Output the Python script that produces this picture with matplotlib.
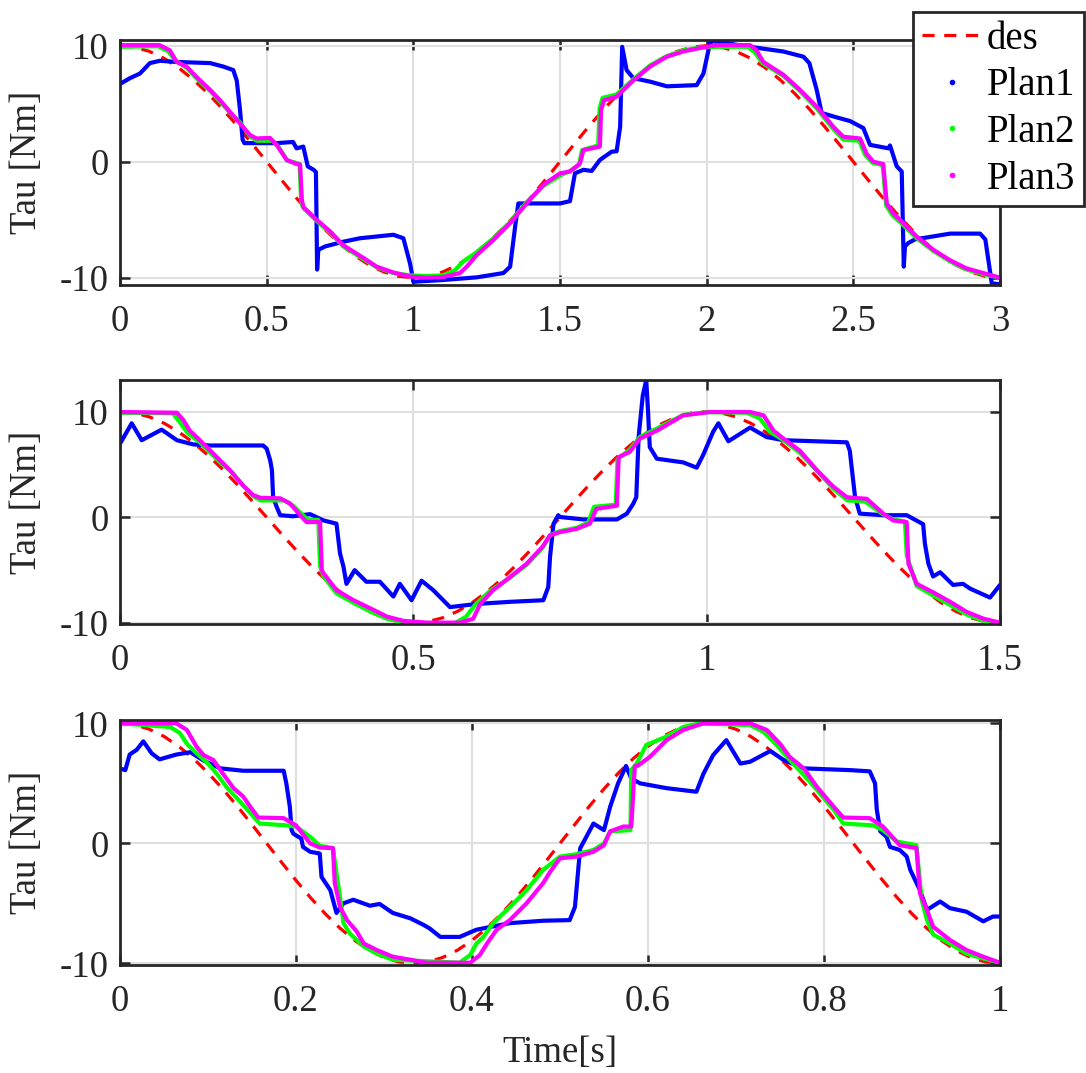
import numpy as np
import matplotlib
matplotlib.use("Agg")
import matplotlib.pyplot as plt
from matplotlib.lines import Line2D

# ---------------- data ----------------
# desired torque over 1.5 periods (same sequence in every panel, time-scaled)
des_vals = [10.0, 9.88, 9.51, 8.91, 8.09, 7.07, 5.88, 4.54, 3.09, 1.56,
            0.0, -1.56, -3.09, -4.54, -5.88, -7.07, -8.09, -8.91, -9.51, -9.88,
            -10.0, -9.88, -9.51, -8.91, -8.09, -7.07, -5.88, -4.54, -3.09, -1.56,
            0.0, 1.56, 3.09, 4.54, 5.88, 7.07, 8.09, 8.91, 9.51, 9.88,
            10.0, 9.88, 9.51, 8.91, 8.09, 7.07, 5.88, 4.54, 3.09, 1.56,
            0.0, -1.56, -3.09, -4.54, -5.88, -7.07, -8.09, -8.91, -9.51, -9.88,
            -10.0]
t_end = [3.0, 1.5, 1.0]

# panel 1 (3 s)
p1_t1 = [0, 0.034, 0.068, 0.102, 0.136, 0.19, 0.307, 0.352, 0.386, 0.398, 0.409, 0.418, 0.424,
         0.534, 0.59, 0.602, 0.625, 0.64, 0.66, 0.668, 0.672, 0.676, 0.7, 0.761, 0.818, 0.932,
         0.966, 0.989, 1.0, 1.1, 1.216, 1.307, 1.33, 1.347, 1.358, 1.5, 1.534, 1.551, 1.58,
         1.608, 1.636, 1.676, 1.693, 1.705, 1.712, 1.727, 1.75, 1.807, 1.864, 1.966, 1.989,
         2.011, 2.02, 2.148, 2.261, 2.33, 2.35, 2.375, 2.392, 2.432, 2.489, 2.534, 2.557,
         2.62, 2.625, 2.648, 2.665, 2.672, 2.676, 2.688, 2.71, 2.83, 2.932, 2.95, 2.972, 3.0]
p1_v1 = [6.7, 7.2, 7.6, 8.5, 8.7, 8.6, 8.5, 8.2, 7.9, 7.0, 4.5, 1.9, 1.6, 1.6, 1.7, 1.15, 1.3,
         -0.4, -0.7, -0.9, -9.3, -7.6, -7.3, -6.9, -6.6, -6.3, -6.6, -8.8, -10.35, -10.2,
         -9.97, -9.6, -9.05, -5.6, -3.6, -3.6, -3.4, -1.0, -0.7, -0.8, 0.15, 0.86, 0.9, 3.0,
         9.9, 7.9, 7.2, 6.9, 6.5, 6.6, 7.6, 10.2, 10.4, 9.9, 9.5, 9.05, 8.5, 6.2, 4.2, 3.9,
         3.5, 2.9, 1.45, 1.15, 1.4, -0.4, -0.85, -9.05, -7.3, -7.0, -6.7, -6.2, -6.2, -6.7,
         -10.5, -10.55]
p1_t2 = [0, 0.13, 0.165, 0.19, 0.227, 0.261, 0.307, 0.341, 0.375, 0.409, 0.443, 0.466, 0.52,
         0.54, 0.57, 0.6, 0.612, 0.618, 0.625, 0.67, 0.716, 0.761, 0.83, 0.875, 0.932, 0.989,
         1.045, 1.1, 1.14, 1.17, 1.216, 1.273, 1.33, 1.386, 1.443, 1.5, 1.534, 1.565, 1.575,
         1.63, 1.635, 1.645, 1.693, 1.75, 1.807, 1.864, 1.92, 1.977, 2.034, 2.14, 2.165, 2.19,
         2.261, 2.318, 2.375, 2.432, 2.466, 2.52, 2.54, 2.565, 2.6, 2.612, 2.636, 2.659,
         2.716, 2.773, 2.83, 2.886, 2.943, 3.0]
p1_v2 = [9.9, 9.95, 9.5, 8.7, 8.1, 7.2, 6.1, 5.2, 4.2, 3.4, 2.2, 1.8, 1.8, 1.3, 0.1, -0.1,
         -0.2, -3.5, -4.0, -5.1, -6.1, -7.3, -8.4, -9.1, -9.6, -9.8, -9.85, -9.8, -9.4, -8.6,
         -7.8, -6.6, -5.2, -3.5, -2.1, -1.2, -0.8, -0.3, 1.0, 1.4, 4.6, 5.5, 5.8, 7.1, 8.3,
         9.1, 9.6, 9.85, 9.9, 9.9, 9.4, 8.5, 7.4, 6.1, 4.6, 2.8, 1.9, 1.8, 0.6, -0.1, -0.3,
         -3.8, -4.7, -5.2, -6.6, -7.7, -8.6, -9.3, -9.7, -10.0]
p1_t3 = [0, 0.135, 0.17, 0.193, 0.227, 0.261, 0.307, 0.341, 0.375, 0.409, 0.443, 0.466, 0.511,
         0.534, 0.568, 0.602, 0.614, 0.62, 0.625, 0.67, 0.716, 0.761, 0.83, 0.875, 0.932,
         0.989, 1.045, 1.1, 1.159, 1.182, 1.216, 1.273, 1.33, 1.386, 1.443, 1.5, 1.534, 1.568,
         1.58, 1.636, 1.64, 1.65, 1.693, 1.75, 1.807, 1.864, 1.92, 1.977, 2.034, 2.148, 2.17,
         2.193, 2.261, 2.318, 2.375, 2.432, 2.466, 2.523, 2.545, 2.568, 2.602, 2.614, 2.636,
         2.659, 2.716, 2.773, 2.83, 2.886, 2.943, 3.0]
p1_v3 = [10.05, 10.05, 9.6, 8.6, 8.2, 7.3, 6.2, 5.3, 4.3, 3.3, 2.3, 2.0, 2.05, 1.45, 0.15,
         -0.2, -0.25, -3.3, -3.9, -5.0, -6.0, -7.2, -8.3, -9.05, -9.55, -9.9, -10.0, -9.95,
         -9.6, -9.05, -8.05, -6.75, -5.3, -3.6, -2.0, -1.0, -0.85, -0.15, 1.0, 1.3, 4.45, 5.3,
         5.6, 7.0, 8.2, 9.05, 9.5, 9.8, 10.05, 10.05, 9.6, 8.6, 7.5, 6.2, 4.75, 3.0, 2.15,
         2.0, 0.7, 0.0, -0.2, -3.6, -4.45, -5.0, -6.45, -7.6, -8.5, -9.2, -9.6, -10.0]

# panel 2 (1.5 s)
p2_t1 = [0, 0.02, 0.037, 0.071, 0.097, 0.125, 0.153, 0.244, 0.25, 0.256, 0.259, 0.261, 0.267,
         0.273, 0.295, 0.324, 0.347, 0.369, 0.375, 0.381, 0.386, 0.4, 0.42, 0.443, 0.466,
         0.477, 0.497, 0.514, 0.534, 0.5625, 0.608, 0.665, 0.7216, 0.73, 0.733, 0.739, 0.747,
         0.75, 0.79, 0.847, 0.864, 0.875, 0.88, 0.884, 0.891, 0.897, 0.9, 0.903, 0.915, 0.96,
         0.983, 0.994, 1.011, 1.02, 1.037, 1.074, 1.102, 1.131, 1.239, 1.244, 1.247, 1.253,
         1.261, 1.301, 1.341, 1.369, 1.372, 1.378, 1.386, 1.398, 1.42, 1.437, 1.449, 1.483, 1.5]
p2_v1 = [6.97, 8.9, 7.3, 8.3, 7.3, 6.9, 6.8, 6.8, 6.5, 5.4, 4.45, 1.9, 1.0, 0.2, 0.1, 0.3,
         -0.3, -0.6, -3.4, -4.7, -6.3, -5.0, -6.1, -6.1, -7.5, -6.3, -7.85, -6.0, -6.9, -8.5,
         -8.2, -8.0, -7.85, -6.6, -3.75, -0.6, 0.2, 0.03, -0.2, -0.2, 0.35, 1.3, 1.9, 7.6,
         11.5, 13.0, 10.1, 6.65, 5.55, 5.2, 4.7, 5.9, 8.1, 8.9, 7.2, 8.5, 7.6, 7.3, 7.1, 6.3,
         4.8, 1.9, 0.35, 0.2, 0.2, -0.65, -2.5, -4.4, -5.6, -5.2, -6.4, -6.3, -6.75, -7.6, -6.4]
p2_t2 = [0, 0.09, 0.102, 0.115, 0.136, 0.165, 0.19, 0.21, 0.227, 0.24, 0.28, 0.295, 0.31,
         0.32, 0.338, 0.341, 0.347, 0.369, 0.398, 0.426, 0.455, 0.483, 0.523, 0.57, 0.59,
         0.605, 0.63, 0.665, 0.693, 0.72, 0.733, 0.75, 0.778, 0.798, 0.808, 0.845, 0.848,
         0.869, 0.886, 0.915, 0.96, 1.0, 1.068, 1.09, 1.108, 1.131, 1.159, 1.19, 1.216, 1.24,
         1.27, 1.3, 1.318, 1.338, 1.341, 1.358, 1.386, 1.415, 1.443, 1.472, 1.5]
p2_v2 = [9.9, 9.85, 9.0, 8.0, 7.1, 5.5, 4.3, 3.0, 2.0, 1.6, 1.6, 1.1, 0.3, -0.2, -0.25, -4.6,
         -5.6, -7.2, -8.1, -8.9, -9.6, -9.95, -10.1, -10.05, -9.4, -8.3, -7.0, -5.7, -4.5,
         -2.9, -1.7, -1.3, -1.0, -0.5, 1.0, 1.2, 5.5, 6.4, 7.6, 8.4, 9.7, 9.95, 9.9, 9.4,
         8.1, 7.3, 6.1, 4.3, 2.7, 1.6, 1.5, 0.3, -0.2, -0.4, -3.6, -6.5, -7.4, -8.3, -9.2,
         -9.8, -10.0]
p2_t3 = [0, 0.097, 0.108, 0.119, 0.136, 0.165, 0.1875, 0.21, 0.227, 0.239, 0.273, 0.29, 0.307,
         0.318, 0.341, 0.344, 0.347, 0.369, 0.398, 0.426, 0.455, 0.483, 0.523, 0.58, 0.602,
         0.614, 0.636, 0.665, 0.693, 0.72, 0.733, 0.75, 0.778, 0.801, 0.812, 0.847, 0.85,
         0.869, 0.886, 0.915, 0.96, 1.006, 1.074, 1.097, 1.114, 1.131, 1.159, 1.188, 1.216,
         1.239, 1.273, 1.301, 1.318, 1.341, 1.344, 1.358, 1.386, 1.415, 1.443, 1.472, 1.5]
p2_v3 = [9.97, 9.9, 9.2, 8.2, 7.3, 5.7, 4.45, 3.0, 2.1, 1.85, 1.8, 1.3, 0.2, -0.45, -0.45,
         -5.0, -5.3, -6.9, -7.85, -8.6, -9.4, -9.8, -9.97, -9.97, -9.6, -8.2, -6.9, -5.65,
         -4.4, -2.8, -1.7, -1.4, -1.1, -0.6, 0.8, 1.1, 5.7, 6.2, 7.45, 8.2, 9.65, 9.97, 9.97,
         9.65, 8.2, 7.45, 6.3, 4.45, 2.9, 1.9, 1.75, 0.35, -0.3, -0.45, -4.4, -6.3, -7.1,
         -8.0, -8.95, -9.6, -9.97]

# panel 3 (1 s)
p3_t1 = [0, 0.006, 0.011, 0.019, 0.0265, 0.036, 0.045, 0.064, 0.08, 0.095, 0.114, 0.14,
         0.186, 0.189, 0.193, 0.195, 0.197, 0.206, 0.208, 0.216, 0.227, 0.229, 0.239, 0.246,
         0.254, 0.265, 0.284, 0.295, 0.31, 0.33, 0.345, 0.352, 0.364, 0.386, 0.405, 0.443,
         0.481, 0.511, 0.517, 0.521, 0.523, 0.53, 0.538, 0.55, 0.557, 0.566, 0.575, 0.581,
         0.591, 0.621, 0.655, 0.663, 0.674, 0.689, 0.705, 0.716, 0.739, 0.754, 0.777, 0.83,
         0.852, 0.858, 0.86, 0.864, 0.871, 0.875, 0.886, 0.894, 0.898, 0.909, 0.917, 0.932,
         0.943, 0.962, 0.981, 0.992, 1.0]
p3_v1 = [6.25, 6.1, 7.4, 7.8, 8.5, 7.5, 7.0, 7.4, 7.6, 6.9, 6.25, 6.05, 6.05, 5.0, 3.05, 1.1,
         0.8, 0.4, -0.3, -0.7, -0.85, -2.8, -3.9, -5.8, -5.0, -4.7, -5.2, -5.05, -5.8, -6.25,
         -6.8, -7.1, -7.8, -7.8, -7.2, -6.65, -6.45, -6.4, -5.3, -1.95, -0.4, 0.55, 1.65, 1.1,
         3.05, 5.0, 6.45, 5.4, 5.0, 4.6, 4.3, 5.8, 7.35, 8.6, 6.65, 6.8, 7.7, 6.95, 6.25, 6.1,
         6.0, 5.0, 2.8, 1.0, 0.55, -0.3, -0.55, -1.1, -2.2, -3.9, -5.55, -4.85, -5.4, -5.7,
         -6.5, -6.1, -6.1]
p3_t2 = [0, 0.057, 0.068, 0.076, 0.087, 0.098, 0.11, 0.121, 0.14, 0.155, 0.159, 0.189, 0.2,
         0.216, 0.227, 0.242, 0.246, 0.25, 0.254, 0.261, 0.277, 0.292, 0.31, 0.386, 0.398,
         0.405, 0.413, 0.424, 0.443, 0.462, 0.481, 0.5, 0.519, 0.538, 0.55, 0.557, 0.58,
         0.581, 0.587, 0.598, 0.621, 0.64, 0.659, 0.716, 0.731, 0.746, 0.761, 0.777, 0.792,
         0.811, 0.822, 0.856, 0.867, 0.883, 0.905, 0.911, 0.917, 0.924, 0.943, 0.962, 0.981, 1.0]
p3_v2 = [10.0, 9.7, 9.2, 8.3, 7.5, 6.8, 5.8, 4.7, 3.2, 1.95, 1.65, 1.5, 1.4, 0.55, -0.2, -0.4,
         -2.5, -4.45, -6.65, -7.5, -8.6, -9.2, -9.7, -9.95, -9.3, -8.35, -7.8, -6.65, -5.3,
         -3.9, -2.2, -1.1, -0.9, -0.55, 0.0, 1.0, 1.1, 6.1, 6.65, 8.2, 8.9, 9.7, 10.0, 9.85,
         9.3, 8.2, 6.95, 5.7, 4.45, 2.8, 1.65, 1.5, 1.1, 0.15, -0.15, -4.7, -6.4, -7.6, -8.35,
         -9.2, -9.6, -9.95]
p3_t3 = [0, 0.064, 0.076, 0.087, 0.095, 0.106, 0.117, 0.129, 0.14, 0.148, 0.157, 0.186, 0.2,
         0.216, 0.227, 0.242, 0.244, 0.25, 0.258, 0.269, 0.277, 0.292, 0.31, 0.33, 0.348,
         0.398, 0.409, 0.417, 0.428, 0.443, 0.462, 0.481, 0.489, 0.5, 0.519, 0.538, 0.55,
         0.557, 0.572, 0.581, 0.585, 0.589, 0.602, 0.621, 0.64, 0.663, 0.716, 0.735, 0.75,
         0.761, 0.777, 0.792, 0.811, 0.822, 0.852, 0.867, 0.886, 0.905, 0.909, 0.917, 0.924,
         0.943, 0.962, 0.981, 1.0]
p3_v3 = [10.0, 10.0, 9.45, 8.05, 7.35, 6.95, 5.8, 4.6, 3.9, 3.05, 2.15, 2.1, 1.5, 0.0, -0.35,
         -0.4, -3.3, -5.3, -6.4, -7.35, -8.35, -8.9, -9.45, -9.7, -9.95, -9.95, -9.3, -8.35,
         -7.2, -6.4, -5.0, -3.3, -2.35, -1.25, -1.1, -0.7, -0.15, 1.0, 1.4, 1.4, 6.4, 6.5,
         7.2, 8.6, 9.45, 10.0, 10.0, 9.45, 8.3, 7.2, 6.25, 4.7, 3.05, 2.15, 2.1, 1.4, -0.15,
         -0.4, -4.15, -5.55, -6.95, -8.05, -8.9, -9.45, -9.95]

plans = [
    [(p1_t1, p1_v1), (p1_t2, p1_v2), (p1_t3, p1_v3)],
    [(p2_t1, p2_v1), (p2_t2, p2_v2), (p2_t3, p2_v3)],
    [(p3_t1, p3_v1), (p3_t2, p3_v2), (p3_t3, p3_v3)],
]

x_ticks = [[0, 0.5, 1, 1.5, 2, 2.5, 3], [0, 0.5, 1, 1.5], [0, 0.2, 0.4, 0.6, 0.8, 1]]
x_ticklabels = [["0", "0.5", "1", "1.5", "2", "2.5", "3"], ["0", "0.5", "1", "1.5"],
                ["0", "0.2", "0.4", "0.6", "0.8", "1"]]
y_ticks = [-10, 0, 10]
y_ticklabels = ["-10", "0", "10"]
y_limits = [(-10.63, 10.49), (-10.1, 13.0), (-10.14, 10.28)]

series_labels = ["des", "Plan1", "Plan2", "Plan3"]
plan_colors = ["#0000ff", "#00ff00", "#ff00ff"]
des_color = "#ff0000"
ink = "#262626"

# ---------------- style ----------------
plt.rcParams["font.family"] = ["Liberation Serif", "DejaVu Serif"]
plt.rcParams["font.size"] = 26.5
fs = 26.5

W, H = 1086, 1073
fig = plt.figure(figsize=(W / 100, H / 100), dpi=100)

# axes boxes in pixels: (left, top, right, bottom)
boxes = [(120, 40, 1000, 285), (120, 380, 1000, 624), (120, 720, 1000, 965)]

for i, (l, t, r, b) in enumerate(boxes):
    ax = fig.add_axes([l / W, 1 - b / H, (r - l) / W, (b - t) / H])
    tt = np.linspace(0, t_end[i], len(des_vals))
    ax.plot(tt, des_vals, color=des_color, lw=2.3, dashes=(3.8, 3.0), zorder=2)
    for (ts, vs), c in zip(plans[i], plan_colors):
        ax.plot(ts, vs, color=c, lw=3.0, solid_joinstyle="round",
                solid_capstyle="round", zorder=3)
    ax.set_xlim(0, t_end[i])
    ax.set_ylim(*y_limits[i])
    ax.set_xticks(x_ticks[i])
    ax.set_xticklabels(x_ticklabels[i])
    ax.set_yticks(y_ticks)
    ax.set_yticklabels(y_ticklabels)
    ax.grid(True, color="#dfdfdf", lw=1.5, zorder=0)
    ax.set_axisbelow(True)
    for s in ax.spines.values():
        s.set_linewidth(2.0)
        s.set_color(ink)
        s.set_zorder(5)
    ax.tick_params(direction="in", length=7, width=1.8, color=ink, labelcolor=ink,
                   top=True, right=True, labelsize=fs)
    ax.tick_params(axis="x", pad=14)
    ax.tick_params(axis="y", pad=8)
    ax.set_ylabel("Tau [Nm]", color=ink, fontsize=fs)
    ax.yaxis.set_label_coords(-0.086, 0.5)
    if i == 2:
        ax.set_xlabel("Time[s]", color=ink, fontsize=fs, labelpad=12)

handles = [Line2D([], [], color=des_color, lw=2.3, dashes=(3.8, 3.0))]
for c in plan_colors:
    handles.append(Line2D([], [], color=c, ls="none", marker=".", markersize=6))
leg = fig.legend(handles, series_labels, loc="upper right",
                 bbox_to_anchor=(1084 / W, 1 - 12 / H), fontsize=28,
                 frameon=True, fancybox=False, framealpha=1.0, edgecolor=ink,
                 borderpad=0.22, labelspacing=0.25, handlelength=1.55,
                 handletextpad=0.13, borderaxespad=0.0)
leg.get_frame().set_linewidth(2.0)
for txt in leg.get_texts():
    txt.set_color("black")

fig.savefig("out.png", dpi=100)
